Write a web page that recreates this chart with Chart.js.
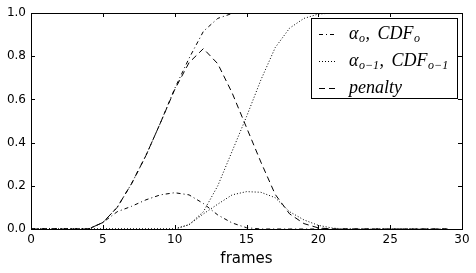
<!DOCTYPE html>
<html>
<head>
<meta charset="utf-8">
<script src="https://cdn.jsdelivr.net/npm/chart.js@4.4.1/dist/chart.umd.min.js"></script>
<style>
  html, body { margin: 0; padding: 0; background: #fff; }
  #chart { display: block; }
</style>
</head>
<body>
<canvas id="chart" width="476" height="273"></canvas>
<script>
// values, one entry per frame
const frames = [0, 1, 2, 3, 4, 5, 6, 7, 8, 9, 10, 11, 12, 13, 14, 15, 16, 17, 18, 19, 20, 21, 22, 23, 24, 25, 26, 27, 28, 29];
const alphaO = [0, 0, 0, 0, 0, 0.03, 0.08, 0.105, 0.135, 0.158, 0.168, 0.158, 0.118, 0.065, 0.028, 0.006, 0, 0, 0, 0, 0, 0, 0, 0, 0, 0, 0, 0, 0, 0];
const cdfO = [0, 0, 0, 0, 0, 0.03, 0.1, 0.21, 0.34, 0.49, 0.65, 0.79, 0.915, 0.975, 0.998, 1, 1, 1, 1, 1, 1, 1, 1, 1, 1, 1, 1, 1, 1, 1];
const alphaO1 = [0, 0, 0, 0, 0, 0, 0, 0, 0, 0, 0, 0.02, 0.07, 0.115, 0.158, 0.173, 0.17, 0.145, 0.08, 0.042, 0.017, 0.004, 0, 0, 0, 0, 0, 0, 0, 0];
const cdfO1 = [0, 0, 0, 0, 0, 0, 0, 0, 0, 0, 0, 0.02, 0.08, 0.2, 0.36, 0.52, 0.69, 0.84, 0.93, 0.975, 0.995, 1, 1, 1, 1, 1, 1, 1, 1, 1];
const penalty = [0, 0, 0, 0, 0, 0.03, 0.1, 0.21, 0.34, 0.49, 0.645, 0.77, 0.835, 0.765, 0.63, 0.47, 0.31, 0.16, 0.07, 0.025, 0.005, 0, 0, 0, 0, 0, 0, 0, 0, 0];
const xTicks = [0, 5, 10, 15, 20, 25, 30];
const yTicks = [0, 0.2, 0.4, 0.6, 0.8, 1.0];

const DASHDOT = [4, 3, 1, 3];
const DOTTED = [1, 2];
const DASHED = [6, 4];

// legend entries: pairs of [main text, subscript]
const legendItems = [
  { dash: DASHDOT, parts: [['α', 'o'], [', ', ''], ['CDF', 'o']] },
  { dash: DOTTED, parts: [['α', 'o−1'], [', ', ''], ['CDF', 'o−1']] },
  { dash: DASHED, parts: [['penalty', '']] },
];

const pts = (ys) => frames.map((x, i) => ({ x, y: ys[i] }));

const lineStyle = (dash) => ({
  borderColor: '#000',
  borderWidth: 1,
  borderDash: dash,
  pointRadius: 0,
  tension: 0,
  fill: false,
});

const frameAndTicks = {
  id: 'frameAndTicks',
  afterDraw(chart) {
    const { ctx, chartArea: a, scales } = chart;
    const len = 4;
    ctx.save();
    ctx.strokeStyle = '#000';
    ctx.lineWidth = 1;
    ctx.setLineDash([]);
    ctx.beginPath();
    xTicks.forEach((t) => {
      const px = Math.round(scales.x.getPixelForValue(t)) + 0.5;
      ctx.moveTo(px, a.bottom); ctx.lineTo(px, a.bottom - len);
      ctx.moveTo(px, a.top); ctx.lineTo(px, a.top + len);
    });
    yTicks.forEach((t) => {
      const py = Math.round(scales.y.getPixelForValue(t)) + 0.5;
      ctx.moveTo(a.left, py); ctx.lineTo(a.left + len, py);
      ctx.moveTo(a.right, py); ctx.lineTo(a.right - len, py);
    });
    ctx.stroke();
    ctx.strokeRect(Math.round(a.left) + 0.5, Math.round(a.top) + 0.5,
      Math.round(a.right - a.left), Math.round(a.bottom - a.top));

    // legend box
    const bx = 311.5, by = 18.5, bw = 146, bh = 80;
    ctx.fillStyle = '#fff';
    ctx.fillRect(bx, by, bw, bh);
    ctx.strokeRect(bx, by, bw, bh);
    const rows = [34, 61, 88];
    legendItems.forEach((item, i) => {
      const y = rows[i];
      ctx.setLineDash(item.dash);
      ctx.beginPath();
      ctx.moveTo(319, y + 0.5); ctx.lineTo(337, y + 0.5);
      ctx.stroke();
      ctx.setLineDash([]);
      let x = 349;
      const base = y + 5;
      ctx.fillStyle = '#000';
      ctx.textBaseline = 'alphabetic';
      item.parts.forEach(([main, sub]) => {
        ctx.font = "italic 18px 'Liberation Serif'";
        ctx.fillText(main, x, base);
        x += ctx.measureText(main).width;
        if (main === ', ') x += 3;
        if (sub) {
          ctx.font = "italic 12px 'Liberation Serif'";
          ctx.fillText(sub, x + 0.5, base + 3);
          x += ctx.measureText(sub).width + 1;
        }
      });
    });
    ctx.restore();
  },
};

new Chart(document.getElementById('chart'), {
  type: 'line',
  data: {
    datasets: [
      { label: 'alpha_o', data: pts(alphaO), ...lineStyle(DASHDOT) },
      { label: 'CDF_o', data: pts(cdfO), ...lineStyle(DASHDOT) },
      { label: 'alpha_o-1', data: pts(alphaO1), ...lineStyle(DOTTED) },
      { label: 'CDF_o-1', data: pts(cdfO1), ...lineStyle(DOTTED) },
      { label: 'penalty', data: pts(penalty), ...lineStyle(DASHED) },
    ],
  },
  options: {
    responsive: false,
    animation: false,
    devicePixelRatio: 1,
    layout: { padding: { top: 13, right: 14, left: 0, bottom: 0 } },
    plugins: { legend: { display: false }, tooltip: { enabled: false } },
    scales: {
      x: {
        type: 'linear',
        min: 0,
        max: 30,
        afterBuildTicks: (s) => { s.ticks = xTicks.map((v) => ({ value: v })); },
        afterFit: (s) => { s.height = 44; },
        grid: { display: false, drawTicks: false },
        border: { display: false },
        ticks: { color: '#000', padding: 4, maxRotation: 0, font: { family: 'DejaVu Sans', size: 12 } },
        title: { display: true, text: 'frames', color: '#000', padding: { top: 0, bottom: 5 }, font: { family: 'DejaVu Sans', size: 15 } },
      },
      y: {
        type: 'linear',
        min: 0,
        max: 1,
        afterBuildTicks: (s) => { s.ticks = yTicks.map((v) => ({ value: v })); },
        afterFit: (s) => { s.width = 31; },
        grid: { display: false, drawTicks: false },
        border: { display: false },
        ticks: { color: '#000', padding: 5, callback: (v) => v.toFixed(1), font: { family: 'DejaVu Sans', size: 12 } },
      },
    },
  },
  plugins: [frameAndTicks],
});
</script>
</body>
</html>
